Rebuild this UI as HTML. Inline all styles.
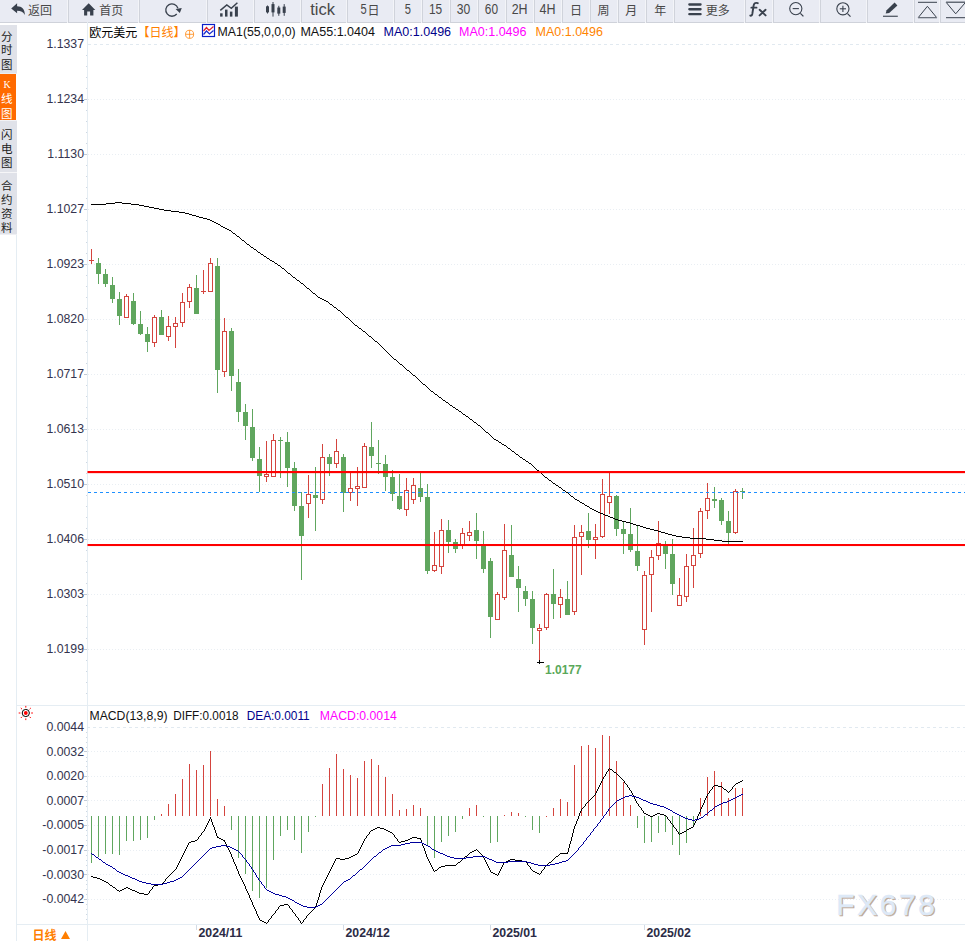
<!DOCTYPE html>
<html><head><meta charset="utf-8"><title>chart</title>
<style>
html,body{margin:0;padding:0;background:#fff;}
body{width:965px;height:941px;overflow:hidden;font-family:"Liberation Sans","Noto Sans CJK SC",sans-serif;}
svg{display:block;font-family:"Liberation Sans","Noto Sans CJK SC",sans-serif;}
</style></head><body>
<svg width="965" height="941" viewBox="0 0 965 941">
<rect x="0" y="0" width="965" height="22" fill="#e9ebf3"/>
<rect x="0" y="22" width="965" height="1" fill="#cfd2da"/>
<rect x="68" y="0" width="1" height="22" fill="#d0d3db"/>
<rect x="67" y="0" width="1" height="23" fill="#f3f4f8"/>
<rect x="139" y="0" width="1" height="22" fill="#d0d3db"/>
<rect x="138" y="0" width="1" height="23" fill="#f3f4f8"/>
<rect x="207" y="0" width="1" height="22" fill="#d0d3db"/>
<rect x="206" y="0" width="1" height="23" fill="#f3f4f8"/>
<rect x="254" y="0" width="1" height="22" fill="#d0d3db"/>
<rect x="253" y="0" width="1" height="23" fill="#f3f4f8"/>
<rect x="301" y="0" width="1" height="22" fill="#d0d3db"/>
<rect x="300" y="0" width="1" height="23" fill="#f3f4f8"/>
<rect x="347" y="0" width="1" height="22" fill="#d0d3db"/>
<rect x="346" y="0" width="1" height="23" fill="#f3f4f8"/>
<rect x="394" y="0" width="1" height="22" fill="#d0d3db"/>
<rect x="393" y="0" width="1" height="23" fill="#f3f4f8"/>
<rect x="422" y="0" width="1" height="22" fill="#d0d3db"/>
<rect x="421" y="0" width="1" height="23" fill="#f3f4f8"/>
<rect x="450" y="0" width="1" height="22" fill="#d0d3db"/>
<rect x="449" y="0" width="1" height="23" fill="#f3f4f8"/>
<rect x="478" y="0" width="1" height="22" fill="#d0d3db"/>
<rect x="477" y="0" width="1" height="23" fill="#f3f4f8"/>
<rect x="506" y="0" width="1" height="22" fill="#d0d3db"/>
<rect x="505" y="0" width="1" height="23" fill="#f3f4f8"/>
<rect x="534" y="0" width="1" height="22" fill="#d0d3db"/>
<rect x="533" y="0" width="1" height="23" fill="#f3f4f8"/>
<rect x="562" y="0" width="1" height="22" fill="#d0d3db"/>
<rect x="561" y="0" width="1" height="23" fill="#f3f4f8"/>
<rect x="590" y="0" width="1" height="22" fill="#d0d3db"/>
<rect x="589" y="0" width="1" height="23" fill="#f3f4f8"/>
<rect x="618" y="0" width="1" height="22" fill="#d0d3db"/>
<rect x="617" y="0" width="1" height="23" fill="#f3f4f8"/>
<rect x="646" y="0" width="1" height="22" fill="#d0d3db"/>
<rect x="645" y="0" width="1" height="23" fill="#f3f4f8"/>
<rect x="674" y="0" width="1" height="22" fill="#d0d3db"/>
<rect x="673" y="0" width="1" height="23" fill="#f3f4f8"/>
<rect x="745" y="0" width="1" height="22" fill="#d0d3db"/>
<rect x="744" y="0" width="1" height="23" fill="#f3f4f8"/>
<rect x="773" y="0" width="1" height="22" fill="#d0d3db"/>
<rect x="772" y="0" width="1" height="23" fill="#f3f4f8"/>
<rect x="820" y="0" width="1" height="22" fill="#d0d3db"/>
<rect x="819" y="0" width="1" height="23" fill="#f3f4f8"/>
<rect x="867" y="0" width="1" height="22" fill="#d0d3db"/>
<rect x="866" y="0" width="1" height="23" fill="#f3f4f8"/>
<rect x="914" y="0" width="1" height="22" fill="#d0d3db"/>
<rect x="913" y="0" width="1" height="23" fill="#f3f4f8"/>
<rect x="940" y="0" width="1" height="22" fill="#d0d3db"/>
<rect x="939" y="0" width="1" height="23" fill="#f3f4f8"/>
<path d="M11.2 8.5 L17.1 3.2 V6.3 C22 6.3 25 9.6 24.8 14.9 C23.3 11.9 21 10.8 17.1 10.8 V13.3 Z" fill="#39414d"/>
<text x="28" y="15" font-size="12" fill="#484848" font-family="Liberation Sans, Noto Sans CJK SC, sans-serif">返回</text>
<path d="M82 9.9 L88.7 3.2 L95.3 9.9 H93.4 V15.4 H90.1 V11.4 H87.2 V15.4 H84.1 V9.9 Z" fill="#39414d"/>
<text x="99.3" y="15" font-size="12" fill="#484848" font-family="Liberation Sans, Noto Sans CJK SC, sans-serif">首页</text>
<path d="M176.75 13.99 A6.2 6.2 0 1 1 177.9 8.2" fill="none" stroke="#39414d" stroke-width="1.3"/>
<path d="M175.6 8.9 L181.8 8.0 L179.8 12.9 Z" fill="#39414d"/>
<g fill="#39414d"><rect x="220.1" y="13.3" width="2.5" height="3.3"/><rect x="225" y="9.6" width="2.5" height="7"/><rect x="229.9" y="11.6" width="2.5" height="5"/><rect x="234.9" y="6.6" width="3" height="10"/></g>
<path d="M220.3 10.3 L226.8 5 L231.3 8.3 L237.4 2.8" fill="none" stroke="#39414d" stroke-width="1.5"/>
<g fill="#39414d"><rect x="266" y="6.3" width="3" height="6.1"/><rect x="267" y="5.5" width="1" height="8"/><rect x="271.5" y="4.1" width="3" height="8.3"/><rect x="272.5" y="2" width="1" height="14.6"/><rect x="277.3" y="7.5" width="3" height="6.1"/><rect x="278.3" y="5.8" width="1" height="10"/><rect x="282.7" y="6.6" width="3" height="6.3"/><rect x="283.7" y="4.1" width="1" height="11.7"/></g>
<text x="322.5" y="15" font-size="16.5" text-anchor="middle" fill="#484848" font-weight="normal">tick</text>
<text x="360.4" y="13.9" font-size="14" fill="#484848" textLength="6.2" lengthAdjust="spacingAndGlyphs">5</text>
<text x="373.4" y="15" font-size="12" text-anchor="middle" fill="#484848" font-family="Liberation Sans, Noto Sans CJK SC, sans-serif">日</text>
<text x="407.9" y="13.9" font-size="14" text-anchor="middle" fill="#484848" font-weight="normal" textLength="6.2" lengthAdjust="spacingAndGlyphs">5</text>
<text x="435.5" y="13.9" font-size="14" text-anchor="middle" fill="#484848" font-weight="normal" textLength="13.2" lengthAdjust="spacingAndGlyphs">15</text>
<text x="463.6" y="13.9" font-size="14" text-anchor="middle" fill="#484848" font-weight="normal" textLength="13.5" lengthAdjust="spacingAndGlyphs">30</text>
<text x="491.4" y="13.9" font-size="14" text-anchor="middle" fill="#484848" font-weight="normal" textLength="13.2" lengthAdjust="spacingAndGlyphs">60</text>
<text x="519.6" y="13.9" font-size="14" text-anchor="middle" fill="#484848" font-weight="normal" textLength="15.9" lengthAdjust="spacingAndGlyphs">2H</text>
<text x="547.6" y="13.9" font-size="14" text-anchor="middle" fill="#484848" font-weight="normal" textLength="16" lengthAdjust="spacingAndGlyphs">4H</text>
<text x="575.9" y="15" font-size="12" text-anchor="middle" fill="#484848" font-family="Liberation Sans, Noto Sans CJK SC, sans-serif">日</text>
<text x="603.6" y="15" font-size="12" text-anchor="middle" fill="#484848" font-family="Liberation Sans, Noto Sans CJK SC, sans-serif">周</text>
<text x="631.3" y="15" font-size="12" text-anchor="middle" fill="#484848" font-family="Liberation Sans, Noto Sans CJK SC, sans-serif">月</text>
<text x="660.3" y="15" font-size="12" text-anchor="middle" fill="#484848" font-family="Liberation Sans, Noto Sans CJK SC, sans-serif">年</text>
<rect x="688.2" y="3.3" width="13.5" height="2.4" rx="1.1" fill="#39414d"/>
<rect x="688.2" y="8.0" width="13.5" height="2.4" rx="1.1" fill="#39414d"/>
<rect x="688.2" y="12.9" width="13.5" height="2.4" rx="1.1" fill="#39414d"/>
<text x="705.8" y="15" font-size="12" fill="#484848" font-family="Liberation Sans, Noto Sans CJK SC, sans-serif">更多</text>
<path d="M757.8 3.2 C755.2 2.2 753.9 3.5 753.6 5.6 L752.3 14 C752 15.6 751.2 15.9 750.3 15.6" fill="none" stroke="#39414d" stroke-width="1.9" stroke-linecap="round"/>
<path d="M751.3 7.7 H756.6" stroke="#39414d" stroke-width="1.7" fill="none" stroke-linecap="round"/>
<path d="M759.6 9.8 L765.6 15.4 M765.6 9.8 L759.6 15.4" stroke="#39414d" stroke-width="1.9" fill="none" stroke-linecap="round"/>
<circle cx="795.8" cy="8.6" r="6.1" fill="none" stroke="#39414d" stroke-width="1.1"/>
<path d="M800.4 13.399999999999999 L803.4 16.4" stroke="#39414d" stroke-width="1.3" fill="none"/>
<path d="M792.6999999999999 8.6 H798.9" stroke="#39414d" stroke-width="1.1"/>
<circle cx="842.9" cy="8.8" r="6.1" fill="none" stroke="#39414d" stroke-width="1.1"/>
<path d="M847.5 13.600000000000001 L850.5 16.6" stroke="#39414d" stroke-width="1.3" fill="none"/>
<path d="M839.8 8.8 H846.0" stroke="#39414d" stroke-width="1.1"/>
<path d="M842.9 5.700000000000001 V11.9" stroke="#39414d" stroke-width="1.1"/>
<path d="M885.7 13.6 L886.6 10.3 L894.6 2.6 L897.4 5.4 L889.2 13 Z" fill="#39414d"/>
<rect x="883" y="15.7" width="14.8" height="1.1" fill="#39414d"/>
<path d="M918 2.3 H937" stroke="#39414d" stroke-width="1"/>
<path d="M927.4 6.3 L936.6 17.5 H918.3 Z" fill="none" stroke="#39414d" stroke-width="1"/>
<path d="M918 17.9 H937" stroke="#8a8f99" stroke-width="1"/>
<path d="M946 17.7 H965" stroke="#39414d" stroke-width="1"/>
<path d="M955.7 13.8 L965.5 2.4 H946.2 Z" fill="none" stroke="#39414d" stroke-width="1"/>
<path d="M946 1.9 H965" stroke="#8a8f99" stroke-width="1"/>
<rect x="0" y="25" width="17" height="48.6" fill="#e0e2e9"/>
<text x="6.8" y="40.5" font-size="11.5" text-anchor="middle" fill="#222" font-family="Liberation Sans, Noto Sans CJK SC, sans-serif">分</text>
<text x="6.8" y="54.3" font-size="11.5" text-anchor="middle" fill="#222" font-family="Liberation Sans, Noto Sans CJK SC, sans-serif">时</text>
<text x="6.8" y="68.5" font-size="11.5" text-anchor="middle" fill="#222" font-family="Liberation Sans, Noto Sans CJK SC, sans-serif">图</text>
<rect x="0" y="74" width="16" height="46" fill="#ff6a00"/>
<text x="7" y="88.4" font-size="10" text-anchor="middle" fill="#fff" font-family="Liberation Serif, serif">K</text>
<text x="6.8" y="103.4" font-size="11.5" text-anchor="middle" fill="#fff" font-family="Liberation Sans, Noto Sans CJK SC, sans-serif">线</text>
<text x="6.8" y="117.5" font-size="11.5" text-anchor="middle" fill="#fff" font-family="Liberation Sans, Noto Sans CJK SC, sans-serif">图</text>
<rect x="0" y="120.6" width="17" height="51.7" fill="#e0e2e9"/>
<text x="6.8" y="139" font-size="11.5" text-anchor="middle" fill="#222" font-family="Liberation Sans, Noto Sans CJK SC, sans-serif">闪</text>
<text x="6.8" y="153" font-size="11.5" text-anchor="middle" fill="#222" font-family="Liberation Sans, Noto Sans CJK SC, sans-serif">电</text>
<text x="6.8" y="167" font-size="11.5" text-anchor="middle" fill="#222" font-family="Liberation Sans, Noto Sans CJK SC, sans-serif">图</text>
<rect x="0" y="173" width="17" height="61.5" fill="#e0e2e9"/>
<text x="6.8" y="190" font-size="11.5" text-anchor="middle" fill="#222" font-family="Liberation Sans, Noto Sans CJK SC, sans-serif">合</text>
<text x="6.8" y="204" font-size="11.5" text-anchor="middle" fill="#222" font-family="Liberation Sans, Noto Sans CJK SC, sans-serif">约</text>
<text x="6.8" y="218" font-size="11.5" text-anchor="middle" fill="#222" font-family="Liberation Sans, Noto Sans CJK SC, sans-serif">资</text>
<text x="6.8" y="232" font-size="11.5" text-anchor="middle" fill="#222" font-family="Liberation Sans, Noto Sans CJK SC, sans-serif">料</text>
<rect x="16" y="235" width="1" height="706" fill="#e5edf3"/>
<rect x="87" y="22" width="1" height="919" fill="#e5edf3"/>
<rect x="16" y="705" width="949" height="1" fill="#e5edf3"/>
<rect x="16" y="924" width="949" height="1" fill="#e5edf3"/>
<path d="M88 44.5 H965" stroke="#e1e9f0" stroke-width="1" stroke-dasharray="3 3"/>
<path d="M88 99.5 H965" stroke="#e9eef3" stroke-width="1" stroke-dasharray="1 2"/>
<path d="M88 154.5 H965" stroke="#e9eef3" stroke-width="1" stroke-dasharray="1 2"/>
<path d="M88 209.5 H965" stroke="#e9eef3" stroke-width="1" stroke-dasharray="1 2"/>
<path d="M88 264.5 H965" stroke="#e9eef3" stroke-width="1" stroke-dasharray="1 2"/>
<path d="M88 319.5 H965" stroke="#e9eef3" stroke-width="1" stroke-dasharray="1 2"/>
<path d="M88 374.5 H965" stroke="#e9eef3" stroke-width="1" stroke-dasharray="1 2"/>
<path d="M88 429.5 H965" stroke="#e9eef3" stroke-width="1" stroke-dasharray="1 2"/>
<path d="M88 484.5 H965" stroke="#e9eef3" stroke-width="1" stroke-dasharray="1 2"/>
<path d="M88 539.5 H965" stroke="#e9eef3" stroke-width="1" stroke-dasharray="1 2"/>
<path d="M88 594.5 H965" stroke="#e9eef3" stroke-width="1" stroke-dasharray="1 2"/>
<path d="M88 649.5 H965" stroke="#e9eef3" stroke-width="1" stroke-dasharray="1 2"/>
<rect x="86" y="55" width="1" height="1" fill="#cfd8e3"/>
<rect x="86" y="66" width="1" height="1" fill="#cfd8e3"/>
<rect x="86" y="77" width="1" height="1" fill="#cfd8e3"/>
<rect x="86" y="88" width="1" height="1" fill="#cfd8e3"/>
<rect x="86" y="110" width="1" height="1" fill="#cfd8e3"/>
<rect x="86" y="121" width="1" height="1" fill="#cfd8e3"/>
<rect x="86" y="132" width="1" height="1" fill="#cfd8e3"/>
<rect x="86" y="143" width="1" height="1" fill="#cfd8e3"/>
<rect x="86" y="165" width="1" height="1" fill="#cfd8e3"/>
<rect x="86" y="176" width="1" height="1" fill="#cfd8e3"/>
<rect x="86" y="187" width="1" height="1" fill="#cfd8e3"/>
<rect x="86" y="198" width="1" height="1" fill="#cfd8e3"/>
<rect x="86" y="220" width="1" height="1" fill="#cfd8e3"/>
<rect x="86" y="231" width="1" height="1" fill="#cfd8e3"/>
<rect x="86" y="242" width="1" height="1" fill="#cfd8e3"/>
<rect x="86" y="253" width="1" height="1" fill="#cfd8e3"/>
<rect x="86" y="275" width="1" height="1" fill="#cfd8e3"/>
<rect x="86" y="286" width="1" height="1" fill="#cfd8e3"/>
<rect x="86" y="297" width="1" height="1" fill="#cfd8e3"/>
<rect x="86" y="308" width="1" height="1" fill="#cfd8e3"/>
<rect x="86" y="330" width="1" height="1" fill="#cfd8e3"/>
<rect x="86" y="341" width="1" height="1" fill="#cfd8e3"/>
<rect x="86" y="352" width="1" height="1" fill="#cfd8e3"/>
<rect x="86" y="363" width="1" height="1" fill="#cfd8e3"/>
<rect x="86" y="385" width="1" height="1" fill="#cfd8e3"/>
<rect x="86" y="396" width="1" height="1" fill="#cfd8e3"/>
<rect x="86" y="407" width="1" height="1" fill="#cfd8e3"/>
<rect x="86" y="418" width="1" height="1" fill="#cfd8e3"/>
<rect x="86" y="440" width="1" height="1" fill="#cfd8e3"/>
<rect x="86" y="451" width="1" height="1" fill="#cfd8e3"/>
<rect x="86" y="462" width="1" height="1" fill="#cfd8e3"/>
<rect x="86" y="473" width="1" height="1" fill="#cfd8e3"/>
<rect x="86" y="495" width="1" height="1" fill="#cfd8e3"/>
<rect x="86" y="506" width="1" height="1" fill="#cfd8e3"/>
<rect x="86" y="517" width="1" height="1" fill="#cfd8e3"/>
<rect x="86" y="528" width="1" height="1" fill="#cfd8e3"/>
<rect x="86" y="550" width="1" height="1" fill="#cfd8e3"/>
<rect x="86" y="561" width="1" height="1" fill="#cfd8e3"/>
<rect x="86" y="572" width="1" height="1" fill="#cfd8e3"/>
<rect x="86" y="583" width="1" height="1" fill="#cfd8e3"/>
<rect x="86" y="605" width="1" height="1" fill="#cfd8e3"/>
<rect x="86" y="616" width="1" height="1" fill="#cfd8e3"/>
<rect x="86" y="627" width="1" height="1" fill="#cfd8e3"/>
<rect x="86" y="638" width="1" height="1" fill="#cfd8e3"/>
<rect x="86" y="660" width="1" height="1" fill="#cfd8e3"/>
<rect x="86" y="671" width="1" height="1" fill="#cfd8e3"/>
<rect x="86" y="682" width="1" height="1" fill="#cfd8e3"/>
<rect x="86" y="693" width="1" height="1" fill="#cfd8e3"/>
<text x="84" y="48.2" font-size="12.3" text-anchor="end" fill="#33334d">1.1337</text>
<text x="84" y="103.2" font-size="12.3" text-anchor="end" fill="#33334d">1.1234</text>
<rect x="84" y="99" width="3" height="1" fill="#c3cbd6"/>
<text x="84" y="158.2" font-size="12.3" text-anchor="end" fill="#33334d">1.1130</text>
<rect x="84" y="154" width="3" height="1" fill="#c3cbd6"/>
<text x="84" y="213.2" font-size="12.3" text-anchor="end" fill="#33334d">1.1027</text>
<rect x="84" y="209" width="3" height="1" fill="#c3cbd6"/>
<text x="84" y="268.2" font-size="12.3" text-anchor="end" fill="#33334d">1.0923</text>
<rect x="84" y="264" width="3" height="1" fill="#c3cbd6"/>
<text x="84" y="323.2" font-size="12.3" text-anchor="end" fill="#33334d">1.0820</text>
<rect x="84" y="319" width="3" height="1" fill="#c3cbd6"/>
<text x="84" y="378.2" font-size="12.3" text-anchor="end" fill="#33334d">1.0717</text>
<rect x="84" y="374" width="3" height="1" fill="#c3cbd6"/>
<text x="84" y="433.2" font-size="12.3" text-anchor="end" fill="#33334d">1.0613</text>
<rect x="84" y="429" width="3" height="1" fill="#c3cbd6"/>
<text x="84" y="488.2" font-size="12.3" text-anchor="end" fill="#33334d">1.0510</text>
<rect x="84" y="484" width="3" height="1" fill="#c3cbd6"/>
<text x="84" y="543.2" font-size="12.3" text-anchor="end" fill="#33334d">1.0406</text>
<rect x="84" y="539" width="3" height="1" fill="#c3cbd6"/>
<text x="84" y="598.2" font-size="12.3" text-anchor="end" fill="#33334d">1.0303</text>
<rect x="84" y="594" width="3" height="1" fill="#c3cbd6"/>
<text x="84" y="653.2" font-size="12.3" text-anchor="end" fill="#33334d">1.0199</text>
<rect x="84" y="649" width="3" height="1" fill="#c3cbd6"/>
<text x="89.3" y="36.5" font-size="12" fill="#000" font-family="Liberation Sans, Noto Sans CJK SC, sans-serif">欧元美元</text>
<text x="137.5" y="36.5" font-size="12" fill="#ff7f00" font-family="Liberation Sans, Noto Sans CJK SC, sans-serif">【日线】</text>
<circle cx="189.6" cy="34.3" r="4.05" fill="none" stroke="#ff7f00" stroke-width="0.75"/><path d="M185.5 34.3 H193.7 M189.6 30.2 V38.4" stroke="#ff7f00" stroke-width="0.75"/>
<rect x="202.5" y="24.5" width="12" height="12" fill="#fff" stroke="#0a1fc8" stroke-width="1.2"/>
<path d="M203.5 31 L206.5 27.5 L209 30.5 L213.5 26.5" fill="none" stroke="#e0202a" stroke-width="1.2"/>
<path d="M203.5 34.5 L206.5 31 L209.5 34 L213.5 30.5" fill="none" stroke="#1a2cd0" stroke-width="1.2"/>
<text x="217.6" y="36" font-size="12" fill="#111" font-weight="normal" textLength="78" lengthAdjust="spacingAndGlyphs">MA1(55,0,0,0)</text>
<text x="300.4" y="36" font-size="12" fill="#111" font-weight="normal" textLength="74.6" lengthAdjust="spacingAndGlyphs">MA55:1.0404</text>
<text x="383.6" y="36" font-size="12" fill="#00008b" font-weight="normal" textLength="67.5" lengthAdjust="spacingAndGlyphs">MA0:1.0496</text>
<text x="459" y="36" font-size="12" fill="#ff00ff" font-weight="normal" textLength="67.5" lengthAdjust="spacingAndGlyphs">MA0:1.0496</text>
<text x="535.5" y="36" font-size="12" fill="#ff8400" font-weight="normal" textLength="67.5" lengthAdjust="spacingAndGlyphs">MA0:1.0496</text>
<rect x="91" y="249" width="1" height="15" fill="#d4443e"/>
<rect x="89" y="260" width="5" height="1" fill="#d4443e"/>
<rect x="98" y="258" width="1" height="26" fill="#60a65e"/>
<rect x="96" y="263" width="5" height="11" fill="#60a65e"/>
<rect x="105" y="269" width="1" height="18" fill="#60a65e"/>
<rect x="103" y="274" width="5" height="10" fill="#60a65e"/>
<rect x="112" y="277" width="1" height="26" fill="#60a65e"/>
<rect x="110" y="285" width="5" height="14" fill="#60a65e"/>
<rect x="119" y="292" width="1" height="33" fill="#60a65e"/>
<rect x="117" y="299" width="5" height="17" fill="#60a65e"/>
<rect x="126" y="294" width="1" height="24" fill="#d4443e"/>
<rect x="124.5" y="296.5" width="4" height="21" fill="#fff" stroke="#d4443e" stroke-width="1"/>
<rect x="133" y="293" width="1" height="32" fill="#60a65e"/>
<rect x="131" y="301" width="5" height="23" fill="#60a65e"/>
<rect x="140" y="311" width="1" height="24" fill="#60a65e"/>
<rect x="138" y="324" width="5" height="10" fill="#60a65e"/>
<rect x="147" y="327" width="1" height="25" fill="#60a65e"/>
<rect x="145" y="334" width="5" height="8" fill="#60a65e"/>
<rect x="154" y="315" width="1" height="32" fill="#d4443e"/>
<rect x="152.5" y="317.5" width="4" height="25" fill="#fff" stroke="#d4443e" stroke-width="1"/>
<rect x="161" y="310" width="1" height="25" fill="#60a65e"/>
<rect x="159" y="317" width="5" height="18" fill="#60a65e"/>
<rect x="168" y="316" width="1" height="25" fill="#d4443e"/>
<rect x="166.5" y="326.5" width="4" height="10" fill="#fff" stroke="#d4443e" stroke-width="1"/>
<rect x="175" y="317" width="1" height="31" fill="#d4443e"/>
<rect x="173.5" y="323.5" width="4" height="3" fill="#fff" stroke="#d4443e" stroke-width="1"/>
<rect x="182" y="293" width="1" height="34" fill="#d4443e"/>
<rect x="180.5" y="302.5" width="4" height="20" fill="#fff" stroke="#d4443e" stroke-width="1"/>
<rect x="189" y="284" width="1" height="24" fill="#d4443e"/>
<rect x="187.5" y="287.5" width="4" height="14" fill="#fff" stroke="#d4443e" stroke-width="1"/>
<rect x="196" y="275" width="1" height="39" fill="#60a65e"/>
<rect x="194" y="288" width="5" height="26" fill="#60a65e"/>
<rect x="203" y="270" width="1" height="24" fill="#d4443e"/>
<rect x="201" y="291" width="5" height="1" fill="#d4443e"/>
<rect x="210" y="258" width="1" height="34" fill="#d4443e"/>
<rect x="208.5" y="263.5" width="4" height="28" fill="#fff" stroke="#d4443e" stroke-width="1"/>
<rect x="217" y="258" width="1" height="135" fill="#60a65e"/>
<rect x="215" y="266" width="5" height="104" fill="#60a65e"/>
<rect x="224" y="318" width="1" height="59" fill="#d4443e"/>
<rect x="222.5" y="331.5" width="4" height="40" fill="#fff" stroke="#d4443e" stroke-width="1"/>
<rect x="231" y="328" width="1" height="63" fill="#60a65e"/>
<rect x="229" y="331" width="5" height="45" fill="#60a65e"/>
<rect x="238" y="369" width="1" height="53" fill="#60a65e"/>
<rect x="236" y="382" width="5" height="30" fill="#60a65e"/>
<rect x="245" y="404" width="1" height="36" fill="#60a65e"/>
<rect x="243" y="412" width="5" height="14" fill="#60a65e"/>
<rect x="252" y="409" width="1" height="52" fill="#60a65e"/>
<rect x="250" y="427" width="5" height="31" fill="#60a65e"/>
<rect x="259" y="447" width="1" height="45" fill="#60a65e"/>
<rect x="257" y="459" width="5" height="17" fill="#60a65e"/>
<rect x="266" y="441" width="1" height="41" fill="#d4443e"/>
<rect x="264.5" y="474.5" width="4" height="2" fill="#fff" stroke="#d4443e" stroke-width="1"/>
<rect x="273" y="434" width="1" height="43" fill="#d4443e"/>
<rect x="271.5" y="440.5" width="4" height="36" fill="#fff" stroke="#d4443e" stroke-width="1"/>
<rect x="280" y="437" width="1" height="41" fill="#60a65e"/>
<rect x="278" y="440" width="5" height="1" fill="#60a65e"/>
<rect x="287" y="432" width="1" height="55" fill="#60a65e"/>
<rect x="285" y="442" width="5" height="26" fill="#60a65e"/>
<rect x="294" y="462" width="1" height="49" fill="#60a65e"/>
<rect x="292" y="468" width="5" height="38" fill="#60a65e"/>
<rect x="301" y="492" width="1" height="88" fill="#60a65e"/>
<rect x="299" y="506" width="5" height="30" fill="#60a65e"/>
<rect x="308" y="475" width="1" height="43" fill="#d4443e"/>
<rect x="306.5" y="494.5" width="4" height="9" fill="#fff" stroke="#d4443e" stroke-width="1"/>
<rect x="315" y="467" width="1" height="64" fill="#60a65e"/>
<rect x="313" y="495" width="5" height="3" fill="#60a65e"/>
<rect x="322" y="444" width="1" height="60" fill="#d4443e"/>
<rect x="320.5" y="457.5" width="4" height="42" fill="#fff" stroke="#d4443e" stroke-width="1"/>
<rect x="329" y="454" width="1" height="22" fill="#60a65e"/>
<rect x="327" y="457" width="5" height="7" fill="#60a65e"/>
<rect x="336" y="439" width="1" height="29" fill="#d4443e"/>
<rect x="334.5" y="451.5" width="4" height="12" fill="#fff" stroke="#d4443e" stroke-width="1"/>
<rect x="343" y="454" width="1" height="58" fill="#60a65e"/>
<rect x="341" y="457" width="5" height="36" fill="#60a65e"/>
<rect x="350" y="472" width="1" height="29" fill="#d4443e"/>
<rect x="348.5" y="488.5" width="4" height="4" fill="#fff" stroke="#d4443e" stroke-width="1"/>
<rect x="357" y="467" width="1" height="39" fill="#d4443e"/>
<rect x="355.5" y="486.5" width="4" height="2" fill="#fff" stroke="#d4443e" stroke-width="1"/>
<rect x="364" y="443" width="1" height="45" fill="#d4443e"/>
<rect x="362.5" y="446.5" width="4" height="41" fill="#fff" stroke="#d4443e" stroke-width="1"/>
<rect x="371" y="422" width="1" height="46" fill="#60a65e"/>
<rect x="369" y="447" width="5" height="9" fill="#60a65e"/>
<rect x="378" y="440" width="1" height="34" fill="#60a65e"/>
<rect x="376" y="463" width="5" height="1" fill="#60a65e"/>
<rect x="385" y="455" width="1" height="36" fill="#60a65e"/>
<rect x="383" y="464" width="5" height="13" fill="#60a65e"/>
<rect x="392" y="470" width="1" height="31" fill="#60a65e"/>
<rect x="390" y="477" width="5" height="17" fill="#60a65e"/>
<rect x="399" y="474" width="1" height="36" fill="#60a65e"/>
<rect x="397" y="496" width="5" height="13" fill="#60a65e"/>
<rect x="406" y="478" width="1" height="38" fill="#d4443e"/>
<rect x="404.5" y="490.5" width="4" height="19" fill="#fff" stroke="#d4443e" stroke-width="1"/>
<rect x="413" y="478" width="1" height="26" fill="#d4443e"/>
<rect x="411.5" y="485.5" width="4" height="14" fill="#fff" stroke="#d4443e" stroke-width="1"/>
<rect x="420" y="473" width="1" height="29" fill="#60a65e"/>
<rect x="418" y="488" width="5" height="9" fill="#60a65e"/>
<rect x="427" y="484" width="1" height="90" fill="#60a65e"/>
<rect x="425" y="497" width="5" height="74" fill="#60a65e"/>
<rect x="434" y="532" width="1" height="40" fill="#d4443e"/>
<rect x="432.5" y="565.5" width="4" height="5" fill="#fff" stroke="#d4443e" stroke-width="1"/>
<rect x="441" y="519" width="1" height="55" fill="#d4443e"/>
<rect x="439.5" y="530.5" width="4" height="36" fill="#fff" stroke="#d4443e" stroke-width="1"/>
<rect x="448" y="520" width="1" height="33" fill="#60a65e"/>
<rect x="446" y="530" width="5" height="12" fill="#60a65e"/>
<rect x="455" y="539" width="1" height="14" fill="#60a65e"/>
<rect x="453" y="542" width="5" height="7" fill="#60a65e"/>
<rect x="462" y="528" width="1" height="21" fill="#d4443e"/>
<rect x="460.5" y="533.5" width="4" height="11" fill="#fff" stroke="#d4443e" stroke-width="1"/>
<rect x="469" y="521" width="1" height="20" fill="#d4443e"/>
<rect x="467.5" y="532.5" width="4" height="3" fill="#fff" stroke="#d4443e" stroke-width="1"/>
<rect x="476" y="513" width="1" height="46" fill="#60a65e"/>
<rect x="474" y="530" width="5" height="11" fill="#60a65e"/>
<rect x="483" y="531" width="1" height="42" fill="#60a65e"/>
<rect x="481" y="545" width="5" height="24" fill="#60a65e"/>
<rect x="490" y="558" width="1" height="80" fill="#60a65e"/>
<rect x="488" y="561" width="5" height="56" fill="#60a65e"/>
<rect x="497" y="592" width="1" height="28" fill="#d4443e"/>
<rect x="495.5" y="594.5" width="4" height="25" fill="#fff" stroke="#d4443e" stroke-width="1"/>
<rect x="504" y="524" width="1" height="76" fill="#d4443e"/>
<rect x="502.5" y="550.5" width="4" height="47" fill="#fff" stroke="#d4443e" stroke-width="1"/>
<rect x="511" y="525" width="1" height="52" fill="#60a65e"/>
<rect x="509" y="555" width="5" height="22" fill="#60a65e"/>
<rect x="518" y="566" width="1" height="46" fill="#60a65e"/>
<rect x="516" y="579" width="5" height="9" fill="#60a65e"/>
<rect x="525" y="586" width="1" height="20" fill="#60a65e"/>
<rect x="523" y="591" width="5" height="8" fill="#60a65e"/>
<rect x="532" y="591" width="1" height="53" fill="#60a65e"/>
<rect x="530" y="599" width="5" height="29" fill="#60a65e"/>
<rect x="539" y="624" width="1" height="36" fill="#d4443e"/>
<rect x="537.5" y="628.5" width="4" height="2" fill="#fff" stroke="#d4443e" stroke-width="1"/>
<rect x="546" y="593" width="1" height="37" fill="#d4443e"/>
<rect x="544.5" y="594.5" width="4" height="33" fill="#fff" stroke="#d4443e" stroke-width="1"/>
<rect x="553" y="569" width="1" height="50" fill="#60a65e"/>
<rect x="551" y="594" width="5" height="10" fill="#60a65e"/>
<rect x="560" y="589" width="1" height="29" fill="#d4443e"/>
<rect x="558.5" y="597.5" width="4" height="7" fill="#fff" stroke="#d4443e" stroke-width="1"/>
<rect x="567" y="581" width="1" height="34" fill="#60a65e"/>
<rect x="565" y="599" width="5" height="16" fill="#60a65e"/>
<rect x="574" y="525" width="1" height="90" fill="#d4443e"/>
<rect x="572.5" y="537.5" width="4" height="74" fill="#fff" stroke="#d4443e" stroke-width="1"/>
<rect x="581" y="525" width="1" height="50" fill="#d4443e"/>
<rect x="579.5" y="532.5" width="4" height="4" fill="#fff" stroke="#d4443e" stroke-width="1"/>
<rect x="588" y="513" width="1" height="35" fill="#60a65e"/>
<rect x="586" y="531" width="5" height="9" fill="#60a65e"/>
<rect x="595" y="524" width="1" height="35" fill="#d4443e"/>
<rect x="593.5" y="537.5" width="4" height="2" fill="#fff" stroke="#d4443e" stroke-width="1"/>
<rect x="602" y="479" width="1" height="59" fill="#d4443e"/>
<rect x="600.5" y="494.5" width="4" height="42" fill="#fff" stroke="#d4443e" stroke-width="1"/>
<rect x="609" y="473" width="1" height="41" fill="#d4443e"/>
<rect x="607.5" y="496.5" width="4" height="6" fill="#fff" stroke="#d4443e" stroke-width="1"/>
<rect x="616" y="495" width="1" height="41" fill="#60a65e"/>
<rect x="614" y="496" width="5" height="33" fill="#60a65e"/>
<rect x="623" y="521" width="1" height="33" fill="#60a65e"/>
<rect x="621" y="529" width="5" height="5" fill="#60a65e"/>
<rect x="630" y="508" width="1" height="44" fill="#60a65e"/>
<rect x="628" y="534" width="5" height="16" fill="#60a65e"/>
<rect x="637" y="526" width="1" height="45" fill="#60a65e"/>
<rect x="635" y="551" width="5" height="15" fill="#60a65e"/>
<rect x="644" y="571" width="1" height="74" fill="#d4443e"/>
<rect x="642.5" y="575.5" width="4" height="54" fill="#fff" stroke="#d4443e" stroke-width="1"/>
<rect x="651" y="550" width="1" height="62" fill="#d4443e"/>
<rect x="649.5" y="557.5" width="4" height="17" fill="#fff" stroke="#d4443e" stroke-width="1"/>
<rect x="658" y="521" width="1" height="39" fill="#d4443e"/>
<rect x="656.5" y="543.5" width="4" height="12" fill="#fff" stroke="#d4443e" stroke-width="1"/>
<rect x="665" y="541" width="1" height="28" fill="#60a65e"/>
<rect x="663" y="545" width="5" height="9" fill="#60a65e"/>
<rect x="672" y="539" width="1" height="56" fill="#60a65e"/>
<rect x="670" y="554" width="5" height="30" fill="#60a65e"/>
<rect x="679" y="578" width="1" height="28" fill="#d4443e"/>
<rect x="677.5" y="595.5" width="4" height="10" fill="#fff" stroke="#d4443e" stroke-width="1"/>
<rect x="686" y="554" width="1" height="48" fill="#d4443e"/>
<rect x="684.5" y="566.5" width="4" height="30" fill="#fff" stroke="#d4443e" stroke-width="1"/>
<rect x="693" y="528" width="1" height="60" fill="#d4443e"/>
<rect x="691.5" y="555.5" width="4" height="10" fill="#fff" stroke="#d4443e" stroke-width="1"/>
<rect x="700" y="508" width="1" height="50" fill="#d4443e"/>
<rect x="698.5" y="511.5" width="4" height="42" fill="#fff" stroke="#d4443e" stroke-width="1"/>
<rect x="707" y="483" width="1" height="36" fill="#d4443e"/>
<rect x="705.5" y="498.5" width="4" height="12" fill="#fff" stroke="#d4443e" stroke-width="1"/>
<rect x="714" y="487" width="1" height="21" fill="#60a65e"/>
<rect x="712" y="499" width="5" height="2" fill="#60a65e"/>
<rect x="721" y="498" width="1" height="27" fill="#60a65e"/>
<rect x="719" y="500" width="5" height="21" fill="#60a65e"/>
<rect x="728" y="511" width="1" height="33" fill="#60a65e"/>
<rect x="726" y="521" width="5" height="12" fill="#60a65e"/>
<rect x="735" y="489" width="1" height="45" fill="#d4443e"/>
<rect x="733.5" y="491.5" width="4" height="41" fill="#fff" stroke="#d4443e" stroke-width="1"/>
<rect x="742" y="488" width="1" height="11" fill="#60a65e"/>
<rect x="740" y="491" width="5" height="1" fill="#60a65e"/>
<path d="M185 213h4v1h-4zM508 448h2v1h-2zM526 461h2v1h-2zM407 370h2v1h-2zM633 524h3v1h-3zM714 540h8v1h-8zM590 508h2v1h-2zM362 330h1v1h-1zM154 208h5v1h-5zM615 519h3v1h-3zM106 203h9v1h-9zM122 203h9v1h-9zM91 204h15v1h-15zM131 204h8v1h-8zM722 541h21v1h-21zM363 331h2v1h-2zM374 340h1v1h-1zM254 249h2v1h-2zM608 516h2v1h-2zM654 530h4v1h-4zM690 538h16v1h-16zM236 235h1v1h-1zM288 273h2v1h-2zM459 411h2v1h-2zM418 379h1v1h-1zM630 523h3v1h-3zM250 246h1v1h-1zM548 479h1v1h-1zM269 259h1v1h-1zM610 517h3v1h-3zM439 397h2v1h-2zM251 247h2v1h-2zM115 202h7v1h-7zM270 260h2v1h-2zM473 421h1v1h-1zM603 514h2v1h-2zM441 398h1v1h-1zM189 214h3v1h-3zM658 531h3v1h-3zM303 284h1v1h-1zM474 422h2v1h-2zM313 293h2v1h-2zM596 511h2v1h-2zM589 507h1v1h-1zM159 209h5v1h-5zM139 205h5v1h-5zM272 261h2v1h-2zM676 536h6v1h-6zM336 308h1v1h-1zM192 215h4v1h-4zM488 433h1v1h-1zM640 526h3v1h-3zM171 211h8v1h-8zM499 442h2v1h-2zM337 309h1v1h-1zM489 434h1v1h-1zM164 210h7v1h-7zM144 206h5v1h-5zM682 537h8v1h-8zM706 539h8v1h-8zM563 490h2v1h-2zM522 458h1v1h-1zM402 365h1v1h-1zM592 509h2v1h-2zM585 505h2v1h-2zM544 476h1v1h-1zM392 357h1v1h-1zM502 444h2v1h-2zM618 520h4v1h-4zM403 366h1v1h-1zM577 500h2v1h-2zM636 525h4v1h-4zM566 492h2v1h-2zM358 327h1v1h-1zM369 336h2v1h-2zM196 216h3v1h-3zM179 212h6v1h-6zM665 533h3v1h-3zM562 489h1v1h-1zM453 407h2v1h-2zM149 207h5v1h-5zM668 534h4v1h-4zM646 528h4v1h-4zM232 232h1v1h-1zM455 408h1v1h-1zM518 455h1v1h-1zM246 243h1v1h-1zM425 385h1v1h-1zM264 256h2v1h-2zM435 394h2v1h-2zM622 521h4v1h-4zM227 229h2v1h-2zM247 244h2v1h-2zM297 280h2v1h-2zM450 405h2v1h-2zM469 418h1v1h-1zM532 465h1v1h-1zM661 532h4v1h-4zM330 304h2v1h-2zM299 281h1v1h-1zM470 419h2v1h-2zM533 466h1v1h-1zM261 254h2v1h-2zM643 527h3v1h-3zM332 305h1v1h-1zM484 430h1v1h-1zM494 439h2v1h-2zM231 231h1v1h-1zM558 486h1v1h-1zM516 454h2v1h-2zM346 317h2v1h-2zM672 535h4v1h-4zM398 362h1v1h-1zM580 502h2v1h-2zM421 382h1v1h-1zM399 363h1v1h-1zM543 475h1v1h-1zM199 217h4v1h-4zM410 372h1v1h-1zM573 497h1v1h-1zM468 417h1v1h-1zM650 529h4v1h-4zM354 324h1v1h-1zM379 344h1v1h-1zM512 451h2v1h-2zM380 345h1v1h-1zM420 381h1v1h-1zM220 225h1v1h-1zM242 240h2v1h-2zM397 361h1v1h-1zM431 391h2v1h-2zM324 300h2v1h-2zM282 268h2v1h-2zM386 351h1v1h-1zM214 222h2v1h-2zM293 277h2v1h-2zM446 402h2v1h-2zM465 415h1v1h-1zM528 462h1v1h-1zM409 371h1v1h-1zM256 250h1v1h-1zM326 301h2v1h-2zM387 352h1v1h-1zM216 223h2v1h-2zM318 297h2v1h-2zM207 219h3v1h-3zM490 435h1v1h-1zM257 251h1v1h-1zM309 289h1v1h-1zM328 302h1v1h-1zM320 298h2v1h-2zM491 436h1v1h-1zM594 510h2v1h-2zM553 483h2v1h-2zM218 224h2v1h-2zM342 313h1v1h-1zM322 299h2v1h-2zM212 221h2v1h-2zM394 359h2v1h-2zM549 480h2v1h-2zM598 512h2v1h-2zM278 265h2v1h-2zM569 494h1v1h-1zM442 399h1v1h-1zM571 496h2v1h-2zM463 414h2v1h-2zM274 262h1v1h-1zM305 286h1v1h-1zM375 341h2v1h-2zM275 263h2v1h-2zM600 513h3v1h-3zM338 310h2v1h-2zM520 457h2v1h-2zM237 236h2v1h-2zM427 387h1v1h-1zM478 425h2v1h-2zM393 358h1v1h-1zM504 445h2v1h-2zM404 367h1v1h-1zM605 515h3v1h-3zM290 274h1v1h-1zM523 459h2v1h-2zM405 368h1v1h-1zM568 493h1v1h-1zM587 506h2v1h-2zM304 285h1v1h-1zM315 294h1v1h-1zM359 328h2v1h-2zM486 432h2v1h-2zM537 470h2v1h-2zM456 409h2v1h-2zM348 318h1v1h-1zM316 295h1v1h-1zM519 456h1v1h-1zM582 503h2v1h-2zM613 518h2v1h-2zM349 319h1v1h-1zM545 477h2v1h-2zM426 386h1v1h-1zM415 376h1v1h-1zM267 258h2v1h-2zM438 396h1v1h-1zM300 282h1v1h-1zM381 346h1v1h-1zM333 306h1v1h-1zM485 431h1v1h-1zM452 406h1v1h-1zM382 347h1v1h-1zM334 307h2v1h-2zM233 233h2v1h-2zM266 257h1v1h-1zM285 270h1v1h-1zM437 395h1v1h-1zM400 364h2v1h-2zM310 290h1v1h-1zM413 375h2v1h-2zM501 443h1v1h-1zM575 499h2v1h-2zM311 291h1v1h-1zM355 325h2v1h-2zM534 467h1v1h-1zM203 218h4v1h-4zM344 315h1v1h-1zM496 440h2v1h-2zM515 453h1v1h-1zM559 487h2v1h-2zM229 230h2v1h-2zM579 501h1v1h-1zM422 383h1v1h-1zM281 267h1v1h-1zM433 392h1v1h-1zM284 269h1v1h-1zM411 373h1v1h-1zM223 227h2v1h-2zM574 498h1v1h-1zM295 278h1v1h-1zM466 416h2v1h-2zM225 228h2v1h-2zM244 241h1v1h-1zM296 279h1v1h-1zM388 353h1v1h-1zM307 288h2v1h-2zM258 252h2v1h-2zM329 303h1v1h-1zM389 354h1v1h-1zM448 403h1v1h-1zM492 437h1v1h-1zM511 450h1v1h-1zM343 314h1v1h-1zM514 452h1v1h-1zM481 427h1v1h-1zM210 220h2v1h-2zM626 522h4v1h-4zM221 226h2v1h-2zM570 495h1v1h-1zM306 287h1v1h-1zM529 463h2v1h-2zM540 472h1v1h-1zM541 473h1v1h-1zM555 484h1v1h-1zM365 332h1v1h-1zM428 388h1v1h-1zM480 426h1v1h-1zM366 333h1v1h-1zM406 369h1v1h-1zM377 342h1v1h-1zM461 412h1v1h-1zM429 389h1v1h-1zM280 266h1v1h-1zM239 237h1v1h-1zM291 275h1v1h-1zM443 400h2v1h-2zM462 413h1v1h-1zM525 460h1v1h-1zM253 248h1v1h-1zM539 471h1v1h-1zM506 446h1v1h-1zM317 296h1v1h-1zM551 481h1v1h-1zM510 449h1v1h-1zM350 320h1v1h-1zM477 424h1v1h-1zM351 321h1v1h-1zM565 491h1v1h-1zM416 377h1v1h-1zM536 469h1v1h-1zM417 378h1v1h-1zM383 348h1v1h-1zM423 384h2v1h-2zM361 329h1v1h-1zM384 349h1v1h-1zM476 423h1v1h-1zM286 271h1v1h-1zM373 339h1v1h-1zM235 234h1v1h-1zM287 272h1v1h-1zM458 410h1v1h-1zM390 355h1v1h-1zM584 504h1v1h-1zM249 245h1v1h-1zM301 283h2v1h-2zM312 292h1v1h-1zM391 356h1v1h-1zM535 468h1v1h-1zM345 316h1v1h-1zM547 478h1v1h-1zM357 326h1v1h-1zM371 337h1v1h-1zM498 441h1v1h-1zM561 488h1v1h-1zM372 338h1v1h-1zM412 374h1v1h-1zM449 404h1v1h-1zM472 420h1v1h-1zM260 253h1v1h-1zM483 429h1v1h-1zM263 255h1v1h-1zM434 393h1v1h-1zM245 242h1v1h-1zM542 474h1v1h-1zM493 438h1v1h-1zM352 322h1v1h-1zM556 485h2v1h-2zM482 428h1v1h-1zM353 323h1v1h-1zM367 334h1v1h-1zM378 343h1v1h-1zM430 390h1v1h-1zM368 335h1v1h-1zM419 380h1v1h-1zM552 482h1v1h-1zM241 239h1v1h-1zM385 350h1v1h-1zM445 401h1v1h-1zM277 264h1v1h-1zM340 311h1v1h-1zM531 464h1v1h-1zM341 312h1v1h-1zM240 238h1v1h-1zM292 276h1v1h-1zM396 360h1v1h-1zM507 447h1v1h-1z" fill="#000" shape-rendering="crispEdges"/>
<rect x="87.5" y="471" width="877.5" height="2.15" fill="#f00"/>
<rect x="87.5" y="544" width="877.5" height="2.05" fill="#f00"/>
<path d="M88 492.5 H965" stroke="#1e90ff" stroke-width="1" stroke-dasharray="3 3"/>
<rect x="537" y="662" width="7" height="1" fill="#000"/><rect x="539" y="660" width="1" height="4" fill="#000"/>
<text x="545" y="673.6" font-size="12" font-weight="bold" fill="#5aa85a">1.0177</text>
<path d="M87 727.5 H965" stroke="#e1e9f0" stroke-width="1" stroke-dasharray="3 3"/>
<text x="84" y="731" font-size="12.3" text-anchor="end" fill="#33334d">0.0044</text>
<path d="M88 751.5 H965" stroke="#e9eef3" stroke-width="1" stroke-dasharray="1 2"/>
<text x="84" y="755.5" font-size="12.3" text-anchor="end" fill="#33334d">0.0032</text>
<rect x="84" y="751" width="3" height="1" fill="#c3cbd6"/>
<path d="M88 776.5 H965" stroke="#e9eef3" stroke-width="1" stroke-dasharray="1 2"/>
<text x="84" y="780" font-size="12.3" text-anchor="end" fill="#33334d">0.0020</text>
<rect x="84" y="776" width="3" height="1" fill="#c3cbd6"/>
<path d="M88 800.5 H965" stroke="#e9eef3" stroke-width="1" stroke-dasharray="1 2"/>
<text x="84" y="804.5" font-size="12.3" text-anchor="end" fill="#33334d">0.0007</text>
<rect x="84" y="800" width="3" height="1" fill="#c3cbd6"/>
<path d="M88 825.5 H965" stroke="#e9eef3" stroke-width="1" stroke-dasharray="1 2"/>
<text x="84" y="829" font-size="12.3" text-anchor="end" fill="#33334d">-0.0005</text>
<rect x="84" y="825" width="3" height="1" fill="#c3cbd6"/>
<path d="M88 850.5 H965" stroke="#e9eef3" stroke-width="1" stroke-dasharray="1 2"/>
<text x="84" y="854" font-size="12.3" text-anchor="end" fill="#33334d">-0.0017</text>
<rect x="84" y="850" width="3" height="1" fill="#c3cbd6"/>
<path d="M88 874.5 H965" stroke="#e9eef3" stroke-width="1" stroke-dasharray="1 2"/>
<text x="84" y="878.5" font-size="12.3" text-anchor="end" fill="#33334d">-0.0030</text>
<rect x="84" y="874" width="3" height="1" fill="#c3cbd6"/>
<path d="M88 899.5 H965" stroke="#e9eef3" stroke-width="1" stroke-dasharray="1 2"/>
<text x="84" y="903" font-size="12.3" text-anchor="end" fill="#33334d">-0.0042</text>
<rect x="84" y="899" width="3" height="1" fill="#c3cbd6"/>
<rect x="86" y="732" width="1" height="1" fill="#cfd8e3"/>
<rect x="86" y="737" width="1" height="1" fill="#cfd8e3"/>
<rect x="86" y="742" width="1" height="1" fill="#cfd8e3"/>
<rect x="86" y="747" width="1" height="1" fill="#cfd8e3"/>
<rect x="86" y="757" width="1" height="1" fill="#cfd8e3"/>
<rect x="86" y="761" width="1" height="1" fill="#cfd8e3"/>
<rect x="86" y="766" width="1" height="1" fill="#cfd8e3"/>
<rect x="86" y="771" width="1" height="1" fill="#cfd8e3"/>
<rect x="86" y="781" width="1" height="1" fill="#cfd8e3"/>
<rect x="86" y="786" width="1" height="1" fill="#cfd8e3"/>
<rect x="86" y="791" width="1" height="1" fill="#cfd8e3"/>
<rect x="86" y="796" width="1" height="1" fill="#cfd8e3"/>
<rect x="86" y="806" width="1" height="1" fill="#cfd8e3"/>
<rect x="86" y="811" width="1" height="1" fill="#cfd8e3"/>
<rect x="86" y="816" width="1" height="1" fill="#cfd8e3"/>
<rect x="86" y="820" width="1" height="1" fill="#cfd8e3"/>
<rect x="86" y="830" width="1" height="1" fill="#cfd8e3"/>
<rect x="86" y="835" width="1" height="1" fill="#cfd8e3"/>
<rect x="86" y="840" width="1" height="1" fill="#cfd8e3"/>
<rect x="86" y="845" width="1" height="1" fill="#cfd8e3"/>
<rect x="86" y="855" width="1" height="1" fill="#cfd8e3"/>
<rect x="86" y="860" width="1" height="1" fill="#cfd8e3"/>
<rect x="86" y="865" width="1" height="1" fill="#cfd8e3"/>
<rect x="86" y="870" width="1" height="1" fill="#cfd8e3"/>
<rect x="86" y="880" width="1" height="1" fill="#cfd8e3"/>
<rect x="86" y="884" width="1" height="1" fill="#cfd8e3"/>
<rect x="86" y="889" width="1" height="1" fill="#cfd8e3"/>
<rect x="86" y="894" width="1" height="1" fill="#cfd8e3"/>
<rect x="86" y="904" width="1" height="1" fill="#cfd8e3"/>
<rect x="86" y="909" width="1" height="1" fill="#cfd8e3"/>
<rect x="86" y="914" width="1" height="1" fill="#cfd8e3"/>
<rect x="86" y="919" width="1" height="1" fill="#cfd8e3"/>
<rect x="91" y="816" width="1" height="47" fill="#60a65e"/>
<rect x="98" y="816" width="1" height="41" fill="#60a65e"/>
<rect x="105" y="816" width="1" height="38" fill="#60a65e"/>
<rect x="112" y="816" width="1" height="38" fill="#60a65e"/>
<rect x="119" y="816" width="1" height="39" fill="#60a65e"/>
<rect x="126" y="816" width="1" height="25" fill="#60a65e"/>
<rect x="133" y="816" width="1" height="25" fill="#60a65e"/>
<rect x="140" y="816" width="1" height="24" fill="#60a65e"/>
<rect x="147" y="816" width="1" height="22" fill="#60a65e"/>
<rect x="154" y="816" width="1" height="4" fill="#60a65e"/>
<rect x="161" y="814" width="1" height="2" fill="#d4443e"/>
<rect x="168" y="804" width="1" height="12" fill="#d4443e"/>
<rect x="175" y="794" width="1" height="22" fill="#d4443e"/>
<rect x="182" y="779" width="1" height="37" fill="#d4443e"/>
<rect x="189" y="764" width="1" height="52" fill="#d4443e"/>
<rect x="196" y="770" width="1" height="46" fill="#d4443e"/>
<rect x="203" y="765" width="1" height="51" fill="#d4443e"/>
<rect x="210" y="751" width="1" height="65" fill="#d4443e"/>
<rect x="217" y="799" width="1" height="17" fill="#d4443e"/>
<rect x="224" y="806" width="1" height="10" fill="#d4443e"/>
<rect x="231" y="816" width="1" height="14" fill="#60a65e"/>
<rect x="238" y="816" width="1" height="42" fill="#60a65e"/>
<rect x="245" y="816" width="1" height="58" fill="#60a65e"/>
<rect x="252" y="816" width="1" height="75" fill="#60a65e"/>
<rect x="259" y="816" width="1" height="82" fill="#60a65e"/>
<rect x="266" y="816" width="1" height="72" fill="#60a65e"/>
<rect x="273" y="816" width="1" height="44" fill="#60a65e"/>
<rect x="280" y="816" width="1" height="20" fill="#60a65e"/>
<rect x="287" y="816" width="1" height="14" fill="#60a65e"/>
<rect x="294" y="816" width="1" height="24" fill="#60a65e"/>
<rect x="301" y="816" width="1" height="37" fill="#60a65e"/>
<rect x="308" y="816" width="1" height="16" fill="#60a65e"/>
<rect x="315" y="816" width="1" height="1" fill="#60a65e"/>
<rect x="322" y="784" width="1" height="32" fill="#d4443e"/>
<rect x="329" y="768" width="1" height="48" fill="#d4443e"/>
<rect x="336" y="754" width="1" height="62" fill="#d4443e"/>
<rect x="343" y="769" width="1" height="47" fill="#d4443e"/>
<rect x="350" y="775" width="1" height="41" fill="#d4443e"/>
<rect x="357" y="778" width="1" height="38" fill="#d4443e"/>
<rect x="364" y="761" width="1" height="55" fill="#d4443e"/>
<rect x="371" y="759" width="1" height="57" fill="#d4443e"/>
<rect x="378" y="765" width="1" height="51" fill="#d4443e"/>
<rect x="385" y="777" width="1" height="39" fill="#d4443e"/>
<rect x="392" y="794" width="1" height="22" fill="#d4443e"/>
<rect x="399" y="810" width="1" height="6" fill="#d4443e"/>
<rect x="406" y="809" width="1" height="7" fill="#d4443e"/>
<rect x="413" y="805" width="1" height="11" fill="#d4443e"/>
<rect x="420" y="808" width="1" height="8" fill="#d4443e"/>
<rect x="427" y="816" width="1" height="29" fill="#60a65e"/>
<rect x="434" y="816" width="1" height="42" fill="#60a65e"/>
<rect x="441" y="816" width="1" height="26" fill="#60a65e"/>
<rect x="448" y="816" width="1" height="20" fill="#60a65e"/>
<rect x="455" y="816" width="1" height="16" fill="#60a65e"/>
<rect x="462" y="816" width="1" height="3" fill="#60a65e"/>
<rect x="469" y="808" width="1" height="8" fill="#d4443e"/>
<rect x="476" y="805" width="1" height="11" fill="#d4443e"/>
<rect x="483" y="816" width="1" height="1" fill="#60a65e"/>
<rect x="490" y="816" width="1" height="27" fill="#60a65e"/>
<rect x="497" y="816" width="1" height="26" fill="#60a65e"/>
<rect x="504" y="815" width="1" height="1" fill="#d4443e"/>
<rect x="511" y="812" width="1" height="4" fill="#d4443e"/>
<rect x="518" y="813" width="1" height="3" fill="#d4443e"/>
<rect x="525" y="816" width="1" height="1" fill="#60a65e"/>
<rect x="532" y="816" width="1" height="14" fill="#60a65e"/>
<rect x="539" y="816" width="1" height="17" fill="#60a65e"/>
<rect x="546" y="816" width="1" height="1" fill="#d4443e"/>
<rect x="553" y="808" width="1" height="8" fill="#d4443e"/>
<rect x="560" y="799" width="1" height="17" fill="#d4443e"/>
<rect x="567" y="802" width="1" height="14" fill="#d4443e"/>
<rect x="574" y="765" width="1" height="51" fill="#d4443e"/>
<rect x="581" y="746" width="1" height="70" fill="#d4443e"/>
<rect x="588" y="745" width="1" height="71" fill="#d4443e"/>
<rect x="595" y="748" width="1" height="68" fill="#d4443e"/>
<rect x="602" y="735" width="1" height="81" fill="#d4443e"/>
<rect x="609" y="736" width="1" height="80" fill="#d4443e"/>
<rect x="616" y="761" width="1" height="55" fill="#d4443e"/>
<rect x="623" y="782" width="1" height="34" fill="#d4443e"/>
<rect x="630" y="805" width="1" height="11" fill="#d4443e"/>
<rect x="637" y="816" width="1" height="12" fill="#60a65e"/>
<rect x="644" y="816" width="1" height="27" fill="#60a65e"/>
<rect x="651" y="816" width="1" height="26" fill="#60a65e"/>
<rect x="658" y="816" width="1" height="17" fill="#60a65e"/>
<rect x="665" y="816" width="1" height="16" fill="#60a65e"/>
<rect x="672" y="816" width="1" height="29" fill="#60a65e"/>
<rect x="679" y="816" width="1" height="39" fill="#60a65e"/>
<rect x="686" y="816" width="1" height="27" fill="#60a65e"/>
<rect x="693" y="816" width="1" height="11" fill="#60a65e"/>
<rect x="700" y="798" width="1" height="18" fill="#d4443e"/>
<rect x="707" y="777" width="1" height="39" fill="#d4443e"/>
<rect x="714" y="771" width="1" height="45" fill="#d4443e"/>
<rect x="721" y="782" width="1" height="34" fill="#d4443e"/>
<rect x="728" y="798" width="1" height="18" fill="#d4443e"/>
<rect x="735" y="788" width="1" height="28" fill="#d4443e"/>
<rect x="742" y="788" width="1" height="28" fill="#d4443e"/>
<path d="M185 849h1v2h-1zM188 843h1v2h-1zM541 871h1v2h-1zM278 907h1v2h-1zM289 906h1v2h-1zM544 867h1v2h-1zM321 887h1v3h-1zM359 849h1v2h-1zM706 796h1v2h-1zM420 838h1v2h-1zM634 797h1v2h-1zM503 863h1v2h-1zM484 858h1v2h-1zM581 809h1v2h-1zM233 859h1v3h-1zM431 865h1v2h-1zM627 785h1v2h-1zM487 864h1v2h-1zM215 830h1v3h-1zM695 821h1v2h-1zM181 857h1v2h-1zM152 887h1v2h-1zM693 825h1v2h-1zM320 890h1v3h-1zM300 921h1v2h-1zM230 852h1v2h-1zM211 819h1v3h-1zM502 865h1v2h-1zM568 848h1v4h-1zM603 777h1v2h-1zM698 814h1v2h-1zM212 822h1v3h-1zM423 846h1v2h-1zM667 817h1v2h-1zM149 891h1v2h-1zM236 866h1v3h-1zM319 893h1v4h-1zM397 839h1v2h-1zM331 867h1v2h-1zM247 891h1v2h-1zM237 869h1v2h-1zM498 873h1v2h-1zM176 867h1v2h-1zM430 863h1v2h-1zM599 785h1v2h-1zM641 808h1v2h-1zM427 857h1v2h-1zM483 856h1v2h-1zM335 859h1v2h-1zM254 907h1v2h-1zM572 833h1v4h-1zM363 841h1v2h-1zM229 850h1v2h-1zM732 787h1v2h-1zM187 845h1v2h-1zM207 823h1v2h-1zM670 821h1v2h-1zM705 798h1v2h-1zM580 811h1v2h-1zM180 859h1v2h-1zM303 920h1v2h-1zM633 795h1v2h-1zM433 869h1v2h-1zM217 836h1v2h-1zM697 816h1v3h-1zM571 837h1v4h-1zM246 889h1v2h-1zM709 791h1v2h-1zM206 825h1v2h-1zM629 788h1v2h-1zM638 804h1v2h-1zM702 805h1v2h-1zM696 819h1v2h-1zM358 851h1v2h-1zM570 841h1v3h-1zM182 855h1v2h-1zM253 905h1v2h-1zM243 882h1v2h-1zM306 916h1v2h-1zM210 817h1v2h-1zM326 877h1v2h-1zM429 861h1v2h-1zM632 793h1v2h-1zM292 910h1v2h-1zM579 813h1v3h-1zM214 827h1v3h-1zM330 869h1v2h-1zM426 854h1v3h-1zM228 848h1v2h-1zM598 787h1v2h-1zM578 816h1v3h-1zM268 920h1v2h-1zM366 836h1v2h-1zM369 832h1v2h-1zM422 843h1v3h-1zM673 825h1v2h-1zM606 772h1v2h-1zM225 842h1v2h-1zM275 911h1v2h-1zM235 864h1v2h-1zM364 839h1v2h-1zM428 859h1v2h-1zM334 861h1v2h-1zM186 847h1v2h-1zM501 867h1v2h-1zM602 779h1v2h-1zM704 800h1v3h-1zM231 854h1v3h-1zM227 846h1v2h-1zM238 871h1v3h-1zM703 803h1v2h-1zM205 827h1v2h-1zM224 840h1v2h-1zM635 799h1v2h-1zM643 811h1v2h-1zM329 871h1v2h-1zM569 844h1v4h-1zM216 833h1v3h-1zM318 897h1v3h-1zM597 789h1v2h-1zM245 886h1v3h-1zM573 829h1v4h-1zM700 809h1v3h-1zM577 819h1v2h-1zM325 879h1v2h-1zM242 880h1v2h-1zM271 916h1v2h-1zM255 909h1v2h-1zM317 900h1v3h-1zM424 848h1v3h-1zM252 902h1v3h-1zM333 863h1v2h-1zM165 879h1v2h-1zM500 869h1v2h-1zM601 781h1v2h-1zM574 826h1v3h-1zM324 881h1v2h-1zM631 791h1v2h-1zM421 840h1v3h-1zM249 895h1v3h-1zM234 862h1v2h-1zM244 884h1v2h-1zM605 774h1v2h-1zM707 794h1v2h-1zM527 863h1v2h-1zM425 851h1v3h-1zM209 819h1v2h-1zM201 833h1v2h-1zM241 878h1v2h-1zM694 823h1v2h-1zM596 791h1v2h-1zM316 903h1v3h-1zM676 829h1v2h-1zM699 812h1v2h-1zM259 918h1v2h-1zM184 851h1v2h-1zM204 829h1v2h-1zM226 844h1v2h-1zM585 804h1v2h-1zM608 769h1v2h-1zM328 873h1v2h-1zM499 871h1v2h-1zM576 821h1v3h-1zM251 900h1v2h-1zM362 843h1v2h-1zM208 821h1v2h-1zM488 866h1v2h-1zM258 916h1v2h-1zM179 861h1v2h-1zM332 865h1v2h-1zM600 783h1v2h-1zM323 883h1v2h-1zM240 876h1v2h-1zM315 906h1v2h-1zM701 807h1v2h-1zM678 832h1v2h-1zM250 898h1v2h-1zM490 870h1v2h-1zM295 914h1v2h-1zM327 875h1v2h-1zM595 793h1v2h-1zM575 824h1v2h-1zM198 837h1v2h-1zM239 874h1v2h-1zM567 852h1v2h-1zM183 853h1v2h-1zM257 914h1v2h-1zM232 857h1v2h-1zM361 845h1v2h-1zM178 863h1v2h-1zM486 862h1v2h-1zM712 787h1v2h-1zM298 918h1v2h-1zM322 885h1v2h-1zM256 911h1v3h-1zM213 825h1v2h-1zM489 868h1v2h-1zM636 801h1v2h-1zM360 847h1v2h-1zM177 865h1v2h-1zM624 781h1v2h-1zM432 867h1v2h-1zM248 893h1v2h-1zM485 860h1v2h-1zM530 867h1v2h-1zM394 835h1v2h-1zM474 850h2v1h-2zM477 850h1v1h-1zM377 827h3v1h-3zM674 827h1v1h-1zM691 827h2v1h-2zM589 800h1v1h-1zM713 786h1v1h-1zM718 786h4v1h-4zM733 786h1v1h-1zM172 872h1v1h-1zM491 872h2v1h-2zM535 872h2v1h-2zM438 868h1v1h-1zM113 887h2v1h-2zM126 887h2v1h-2zM593 796h1v1h-1zM441 866h4v1h-4zM529 866h1v1h-1zM545 866h1v1h-1zM200 835h1v1h-1zM367 835h1v1h-1zM203 831h1v1h-1zM370 831h1v1h-1zM388 831h2v1h-2zM677 831h1v1h-1zM684 831h2v1h-2zM219 838h2v1h-2zM365 838h1v1h-1zM396 838h1v1h-1zM410 838h2v1h-2zM417 838h3v1h-3zM591 798h1v1h-1zM625 783h1v1h-1zM736 783h2v1h-2zM612 770h1v1h-1zM457 863h1v1h-1zM548 863h1v1h-1zM340 859h5v1h-5zM462 859h1v1h-1zM510 859h5v1h-5zM553 859h1v1h-1zM642 810h1v1h-1zM445 865h11v1h-11zM528 865h1v1h-1zM546 865h1v1h-1zM584 806h1v1h-1zM639 806h1v1h-1zM456 864h1v1h-1zM547 864h1v1h-1zM202 832h1v1h-1zM390 832h2v1h-2zM682 832h2v1h-2zM269 919h1v1h-1zM304 919h1v1h-1zM117 890h2v1h-2zM120 890h2v1h-2zM132 890h3v1h-3zM150 890h1v1h-1zM272 915h1v1h-1zM307 915h1v1h-1zM336 858h4v1h-4zM345 858h4v1h-4zM463 858h1v1h-1zM554 858h1v1h-1zM195 840h2v1h-2zM223 840h1v1h-1zM405 840h3v1h-3zM349 857h2v1h-2zM464 857h1v1h-1zM555 857h1v1h-1zM119 891h1v1h-1zM135 891h2v1h-2zM115 888h1v1h-1zM124 888h2v1h-2zM128 888h2v1h-2zM262 921h2v1h-2zM644 813h2v1h-2zM657 813h3v1h-3zM351 856h2v1h-2zM465 856h2v1h-2zM556 856h2v1h-2zM357 853h1v1h-1zM469 853h1v1h-1zM480 853h1v1h-1zM560 853h7v1h-7zM375 828h2v1h-2zM380 828h4v1h-4zM675 828h1v1h-1zM689 828h2v1h-2zM110 885h2v1h-2zM154 885h4v1h-4zM144 894h4v1h-4zM621 778h1v1h-1zM197 839h1v1h-1zM221 839h2v1h-2zM408 839h2v1h-2zM646 814h2v1h-2zM655 814h2v1h-2zM660 814h4v1h-4zM368 834h1v1h-1zM393 834h1v1h-1zM679 834h1v1h-1zM371 830h2v1h-2zM386 830h2v1h-2zM686 830h1v1h-1zM173 871h1v1h-1zM434 871h1v1h-1zM533 871h2v1h-2zM373 829h2v1h-2zM384 829h2v1h-2zM687 829h2v1h-2zM139 893h5v1h-5zM148 893h1v1h-1zM264 922h2v1h-2zM267 922h1v1h-1zM302 922h1v1h-1zM586 803h1v1h-1zM637 803h1v1h-1zM439 867h2v1h-2zM137 892h2v1h-2zM175 869h1v1h-1zM437 869h1v1h-1zM531 869h1v1h-1zM543 869h1v1h-1zM171 873h1v1h-1zM493 873h2v1h-2zM537 873h2v1h-2zM540 873h1v1h-1zM218 837h1v1h-1zM395 837h1v1h-1zM412 837h5v1h-5zM266 923h1v1h-1zM301 923h1v1h-1zM260 920h2v1h-2zM299 920h1v1h-1zM714 785h4v1h-4zM734 785h1v1h-1zM279 906h1v1h-1zM461 860h1v1h-1zM508 860h2v1h-2zM515 860h7v1h-7zM552 860h1v1h-1zM290 908h1v1h-1zM314 908h1v1h-1zM284 904h4v1h-4zM199 836h1v1h-1zM189 842h2v1h-2zM399 842h2v1h-2zM472 851h2v1h-2zM478 851h1v1h-1zM723 788h1v1h-1zM671 823h1v1h-1zM277 909h1v1h-1zM291 909h1v1h-1zM313 909h1v1h-1zM174 870h1v1h-1zM435 870h2v1h-2zM532 870h1v1h-1zM542 870h1v1h-1zM604 776h1v1h-1zM619 776h1v1h-1zM669 820h1v1h-1zM620 777h1v1h-1zM476 849h1v1h-1zM460 861h1v1h-1zM506 861h2v1h-2zM522 861h4v1h-4zM551 861h1v1h-1zM355 854h2v1h-2zM468 854h1v1h-1zM481 854h1v1h-1zM559 854h1v1h-1zM626 784h1v1h-1zM735 784h1v1h-1zM280 905h4v1h-4zM288 905h1v1h-1zM727 791h1v1h-1zM729 791h1v1h-1zM711 789h1v1h-1zM724 789h2v1h-2zM731 789h1v1h-1zM630 790h1v1h-1zM710 790h1v1h-1zM726 790h1v1h-1zM730 790h1v1h-1zM353 855h2v1h-2zM467 855h1v1h-1zM482 855h1v1h-1zM558 855h1v1h-1zM93 877h4v1h-4zM167 877h1v1h-1zM311 911h1v1h-1zM470 852h2v1h-2zM479 852h1v1h-1zM108 883h1v1h-1zM162 883h1v1h-1zM191 841h4v1h-4zM398 841h1v1h-1zM401 841h4v1h-4zM618 775h1v1h-1zM297 917h1v1h-1zM628 787h1v1h-1zM722 787h1v1h-1zM91 876h2v1h-2zM168 876h1v1h-1zM458 862h2v1h-2zM504 862h2v1h-2zM526 862h1v1h-1zM549 862h2v1h-2zM583 807h1v1h-1zM640 807h1v1h-1zM106 882h2v1h-2zM163 882h1v1h-1zM648 815h2v1h-2zM653 815h2v1h-2zM664 815h2v1h-2zM594 795h1v1h-1zM109 884h1v1h-1zM158 884h4v1h-4zM650 816h3v1h-3zM666 816h1v1h-1zM116 889h1v1h-1zM122 889h2v1h-2zM130 889h2v1h-2zM151 889h1v1h-1zM100 879h2v1h-2zM102 880h2v1h-2zM392 833h1v1h-1zM680 833h2v1h-2zM668 819h1v1h-1zM616 773h1v1h-1zM708 793h1v1h-1zM169 875h1v1h-1zM497 875h1v1h-1zM97 878h3v1h-3zM166 878h1v1h-1zM296 916h1v1h-1zM607 771h1v1h-1zM613 771h1v1h-1zM623 780h1v1h-1zM742 780h1v1h-1zM614 772h2v1h-2zM274 913h1v1h-1zM294 913h1v1h-1zM309 913h1v1h-1zM104 881h2v1h-2zM164 881h1v1h-1zM590 799h1v1h-1zM622 779h1v1h-1zM609 768h1v1h-1zM672 824h1v1h-1zM738 782h2v1h-2zM728 792h1v1h-1zM592 797h1v1h-1zM293 912h1v1h-1zM310 912h1v1h-1zM112 886h1v1h-1zM153 886h1v1h-1zM582 808h1v1h-1zM740 781h2v1h-2zM617 774h1v1h-1zM170 874h1v1h-1zM495 874h2v1h-2zM539 874h1v1h-1zM273 914h1v1h-1zM308 914h1v1h-1zM588 801h1v1h-1zM610 769h2v1h-2zM276 910h1v1h-1zM312 910h1v1h-1zM587 802h1v1h-1zM270 918h1v1h-1zM305 918h1v1h-1z" fill="#000" shape-rendering="crispEdges"/>
<path d="M255 873h1v2h-1zM258 878h1v2h-1zM590 833h1v2h-1zM261 882h1v2h-1zM593 829h1v2h-1zM246 860h1v2h-1zM264 886h1v2h-1zM249 864h1v2h-1zM600 820h1v2h-1zM603 816h1v2h-1zM256 875h1v2h-1zM583 842h1v2h-1zM578 848h1v2h-1zM606 812h1v2h-1zM251 867h1v2h-1zM586 838h1v2h-1zM597 824h1v2h-1zM253 870h1v2h-1zM608 809h1v2h-1zM242 855h1v2h-1zM103 862h2v1h-2zM196 862h1v1h-1zM247 862h1v1h-1zM368 862h1v1h-1zM496 862h12v1h-12zM527 862h4v1h-4zM559 862h3v1h-3zM299 904h2v1h-2zM320 904h2v1h-2zM683 817h2v1h-2zM701 817h2v1h-2zM288 898h2v1h-2zM327 898h1v1h-1zM206 852h1v1h-1zM239 852h1v1h-1zM379 852h2v1h-2zM438 852h2v1h-2zM575 852h1v1h-1zM599 822h1v1h-1zM611 806h1v1h-1zM660 806h4v1h-4zM715 806h2v1h-2zM116 870h1v1h-1zM188 870h1v1h-1zM359 870h1v1h-1zM105 863h1v1h-1zM195 863h1v1h-1zM248 863h1v1h-1zM367 863h1v1h-1zM531 863h3v1h-3zM555 863h4v1h-4zM106 864h2v1h-2zM194 864h1v1h-1zM366 864h1v1h-1zM534 864h4v1h-4zM550 864h5v1h-5zM612 805h1v1h-1zM657 805h3v1h-3zM717 805h2v1h-2zM290 899h2v1h-2zM326 899h1v1h-1zM605 814h1v1h-1zM677 814h2v1h-2zM705 814h2v1h-2zM142 882h4v1h-4zM167 882h3v1h-3zM343 882h1v1h-1zM405 843h5v1h-5zM422 843h2v1h-2zM98 858h1v1h-1zM200 858h1v1h-1zM244 858h1v1h-1zM372 858h1v1h-1zM454 858h12v1h-12zM487 858h2v1h-2zM569 858h1v1h-1zM102 861h1v1h-1zM197 861h1v1h-1zM369 861h1v1h-1zM494 861h2v1h-2zM508 861h19v1h-19zM562 861h4v1h-4zM601 819h1v1h-1zM688 819h4v1h-4zM695 819h4v1h-4zM623 797h2v1h-2zM636 797h3v1h-3zM735 797h2v1h-2zM221 845h5v1h-5zM391 845h10v1h-10zM426 845h2v1h-2zM581 845h1v1h-1zM615 802h1v1h-1zM648 802h2v1h-2zM723 802h4v1h-4zM401 844h4v1h-4zM424 844h2v1h-2zM582 844h1v1h-1zM591 832h1v1h-1zM602 818h1v1h-1zM685 818h3v1h-3zM699 818h2v1h-2zM282 896h4v1h-4zM329 896h1v1h-1zM151 884h12v1h-12zM262 884h1v1h-1zM341 884h1v1h-1zM307 907h9v1h-9zM94 855h1v1h-1zM203 855h1v1h-1zM376 855h1v1h-1zM445 855h2v1h-2zM572 855h1v1h-1zM137 880h2v1h-2zM174 880h2v1h-2zM259 880h1v1h-1zM346 880h2v1h-2zM607 811h1v1h-1zM672 811h1v1h-1zM709 811h1v1h-1zM207 851h1v1h-1zM238 851h1v1h-1zM381 851h1v1h-1zM436 851h2v1h-2zM576 851h1v1h-1zM132 878h3v1h-3zM178 878h2v1h-2zM350 878h1v1h-1zM216 846h5v1h-5zM226 846h4v1h-4zM389 846h2v1h-2zM428 846h2v1h-2zM580 846h1v1h-1zM121 873h2v1h-2zM185 873h1v1h-1zM356 873h1v1h-1zM410 842h12v1h-12zM210 848h2v1h-2zM232 848h2v1h-2zM385 848h2v1h-2zM431 848h1v1h-1zM625 796h4v1h-4zM632 796h4v1h-4zM737 796h2v1h-2zM609 808h1v1h-1zM666 808h2v1h-2zM713 808h1v1h-1zM96 857h2v1h-2zM201 857h1v1h-1zM243 857h1v1h-1zM373 857h1v1h-1zM450 857h4v1h-4zM466 857h7v1h-7zM485 857h2v1h-2zM570 857h1v1h-1zM675 813h2v1h-2zM707 813h1v1h-1zM668 809h2v1h-2zM712 809h1v1h-1zM303 906h4v1h-4zM316 906h2v1h-2zM108 865h2v1h-2zM193 865h1v1h-1zM365 865h1v1h-1zM538 865h12v1h-12zM95 856h1v1h-1zM202 856h1v1h-1zM374 856h2v1h-2zM447 856h3v1h-3zM473 856h12v1h-12zM571 856h1v1h-1zM692 820h3v1h-3zM275 894h4v1h-4zM331 894h1v1h-1zM670 810h2v1h-2zM710 810h2v1h-2zM619 799h2v1h-2zM641 799h2v1h-2zM731 799h2v1h-2zM610 807h1v1h-1zM664 807h2v1h-2zM714 807h1v1h-1zM117 871h2v1h-2zM187 871h1v1h-1zM358 871h1v1h-1zM125 875h3v1h-3zM183 875h1v1h-1zM353 875h2v1h-2zM99 859h2v1h-2zM199 859h1v1h-1zM245 859h1v1h-1zM371 859h1v1h-1zM489 859h3v1h-3zM568 859h1v1h-1zM113 868h2v1h-2zM190 868h1v1h-1zM362 868h1v1h-1zM119 872h2v1h-2zM186 872h1v1h-1zM254 872h1v1h-1zM357 872h1v1h-1zM629 795h3v1h-3zM739 795h2v1h-2zM269 891h2v1h-2zM334 891h1v1h-1zM621 798h2v1h-2zM639 798h2v1h-2zM733 798h2v1h-2zM101 860h1v1h-1zM198 860h1v1h-1zM370 860h1v1h-1zM492 860h2v1h-2zM566 860h2v1h-2zM139 881h3v1h-3zM170 881h4v1h-4zM260 881h1v1h-1zM344 881h2v1h-2zM146 883h5v1h-5zM163 883h4v1h-4zM342 883h1v1h-1zM208 850h1v1h-1zM236 850h2v1h-2zM382 850h1v1h-1zM434 850h2v1h-2zM577 850h1v1h-1zM297 903h2v1h-2zM322 903h1v1h-1zM613 804h1v1h-1zM653 804h4v1h-4zM719 804h2v1h-2zM617 800h2v1h-2zM643 800h3v1h-3zM729 800h2v1h-2zM673 812h2v1h-2zM708 812h1v1h-1zM273 893h2v1h-2zM332 893h1v1h-1zM212 847h4v1h-4zM230 847h2v1h-2zM387 847h2v1h-2zM430 847h1v1h-1zM579 847h1v1h-1zM128 876h2v1h-2zM182 876h1v1h-1zM352 876h1v1h-1zM135 879h2v1h-2zM176 879h2v1h-2zM348 879h2v1h-2zM92 854h2v1h-2zM204 854h1v1h-1zM241 854h1v1h-1zM377 854h1v1h-1zM443 854h2v1h-2zM573 854h1v1h-1zM91 853h1v1h-1zM205 853h1v1h-1zM240 853h1v1h-1zM378 853h1v1h-1zM440 853h3v1h-3zM574 853h1v1h-1zM301 905h2v1h-2zM318 905h2v1h-2zM585 840h1v1h-1zM110 866h2v1h-2zM192 866h1v1h-1zM250 866h1v1h-1zM364 866h1v1h-1zM614 803h1v1h-1zM650 803h3v1h-3zM721 803h2v1h-2zM271 892h2v1h-2zM333 892h1v1h-1zM295 902h2v1h-2zM323 902h1v1h-1zM598 823h1v1h-1zM265 888h1v1h-1zM337 888h1v1h-1zM616 801h1v1h-1zM646 801h2v1h-2zM727 801h2v1h-2zM115 869h1v1h-1zM189 869h1v1h-1zM252 869h1v1h-1zM360 869h2v1h-2zM209 849h1v1h-1zM234 849h2v1h-2zM383 849h2v1h-2zM432 849h2v1h-2zM266 889h1v1h-1zM336 889h1v1h-1zM294 901h1v1h-1zM324 901h1v1h-1zM279 895h3v1h-3zM330 895h1v1h-1zM604 815h1v1h-1zM679 815h2v1h-2zM704 815h1v1h-1zM681 816h2v1h-2zM703 816h1v1h-1zM263 885h1v1h-1zM340 885h1v1h-1zM339 886h1v1h-1zM286 897h2v1h-2zM328 897h1v1h-1zM741 794h2v1h-2zM123 874h2v1h-2zM184 874h1v1h-1zM355 874h1v1h-1zM584 841h1v1h-1zM130 877h2v1h-2zM180 877h2v1h-2zM257 877h1v1h-1zM351 877h1v1h-1zM592 831h1v1h-1zM587 837h1v1h-1zM595 827h1v1h-1zM338 887h1v1h-1zM267 890h2v1h-2zM335 890h1v1h-1zM112 867h1v1h-1zM191 867h1v1h-1zM363 867h1v1h-1zM292 900h2v1h-2zM325 900h1v1h-1zM594 828h1v1h-1zM589 835h1v1h-1zM596 826h1v1h-1zM588 836h1v1h-1z" fill="#00009c" shape-rendering="crispEdges"/>
<text x="89.5" y="719.5" font-size="12" fill="#111" font-weight="normal" textLength="78" lengthAdjust="spacingAndGlyphs">MACD(13,8,9)</text>
<text x="173.2" y="719.5" font-size="12" fill="#111" font-weight="normal" textLength="65.3" lengthAdjust="spacingAndGlyphs">DIFF:0.0018</text>
<text x="246.7" y="719.5" font-size="12" fill="#00008b" font-weight="normal" textLength="63" lengthAdjust="spacingAndGlyphs">DEA:0.0011</text>
<text x="319.8" y="719.5" font-size="12" fill="#ff00ff" font-weight="normal" textLength="77" lengthAdjust="spacingAndGlyphs">MACD:0.0014</text>
<circle cx="25.8" cy="713" r="3.6" fill="#fff" stroke="#000" stroke-width="1"/><circle cx="25.8" cy="713" r="1.9" fill="#f00"/>
<path d="M31.2 713 L32.9 713 M29.6 716.8 L30.8 718 M25.8 718.4 L25.8 720.1 M22 716.8 L20.8 718 M20.4 713 L18.7 713 M22 709.2 L20.8 708 M25.8 707.6 L25.8 705.9 M29.6 709.2 L30.8 708" stroke="#f00" stroke-width="1" fill="none"/>
<rect x="196" y="925" width="1" height="5" fill="#d3dbe6"/>
<text x="198.5" y="937" font-size="12.3" font-weight="bold" fill="#2b2b45">2024/11</text>
<rect x="343" y="925" width="1" height="5" fill="#d3dbe6"/>
<text x="345.5" y="937" font-size="12.3" font-weight="bold" fill="#2b2b45">2024/12</text>
<rect x="490" y="925" width="1" height="5" fill="#d3dbe6"/>
<text x="492.5" y="937" font-size="12.3" font-weight="bold" fill="#2b2b45">2025/01</text>
<rect x="644" y="925" width="1" height="5" fill="#d3dbe6"/>
<text x="646.5" y="937" font-size="12.3" font-weight="bold" fill="#2b2b45">2025/02</text>
<rect x="16.5" y="924.5" width="71" height="20" fill="#fff" stroke="#e5edf3" stroke-width="1"/>
<text x="32.5" y="940" font-size="12" font-weight="bold" fill="#ff7f00" font-family="Liberation Sans, Noto Sans CJK SC, sans-serif">日线</text>
<path d="M61 939 L65.5 931 L70 939 Z" fill="#ff7f00"/>
<text x="837.6" y="916.4" font-size="29.6" fill="#bfa897" stroke="#bfa897" stroke-width="0.5" letter-spacing="2.8">FX678</text>
<text x="836.3" y="915.1" font-size="29.6" fill="#dde9f7" stroke="#dde9f7" stroke-width="0.6" letter-spacing="2.8">FX678</text>
</svg>
</body></html>
